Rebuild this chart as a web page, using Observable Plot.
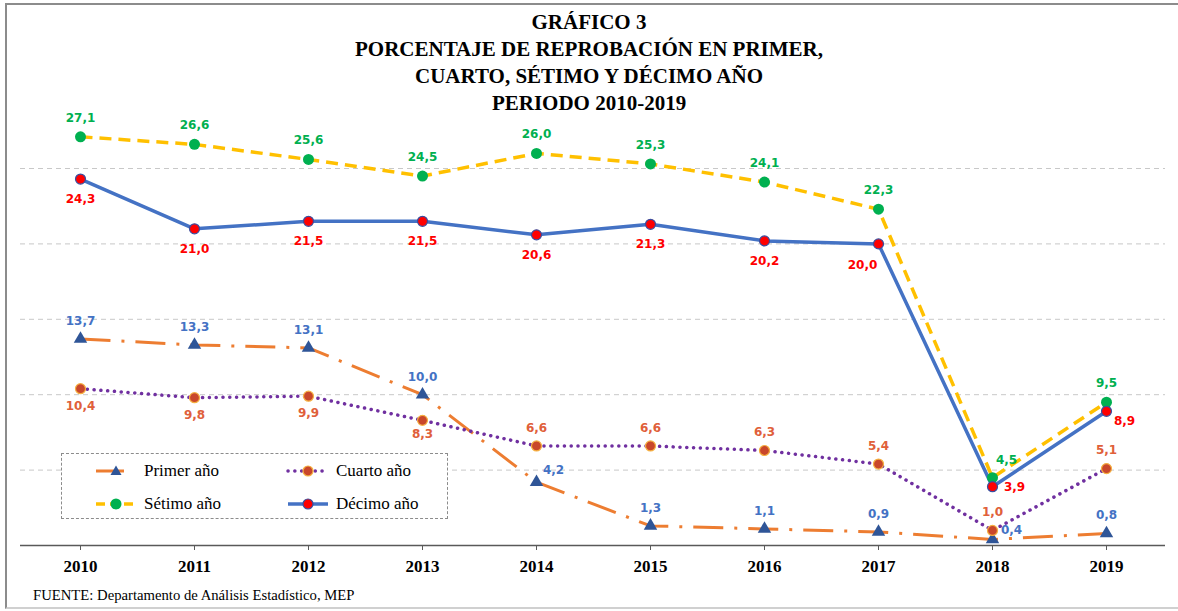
<!DOCTYPE html>
<html>
<head>
<meta charset="utf-8">
<script src="https://cdn.jsdelivr.net/npm/d3@7"></script>
<script src="https://cdn.jsdelivr.net/npm/@observablehq/plot@0.6"></script>
<style>
  html, body { margin: 0; padding: 0; background: #fff; overflow: hidden; }
  #wrap { position: relative; width: 1178px; height: 611px; }
  #frame { position: absolute; left: 5px; top: 3px; width: 1200px; height: 602px;
           border-left: 2px solid #8c8c8c; border-top: 2px solid #8c8c8c; border-bottom: 2px solid #d0d0d0; pointer-events: none; }
  #title { height: 112px; box-sizing: border-box; padding-top: 9px; text-align: center;
           font-family: "Liberation Serif", serif; font-weight: bold; font-size: 21px; line-height: 27px; color: #000; }
  #chart svg { display: block; }
  #caption { margin-top: 5px; padding-left: 33px; font-family: "Liberation Serif", serif; font-size: 14.7px; line-height: 16px; color: #000; }
  #legend { position: absolute; left: 61px; top: 453px; width: 385px; height: 64px; border: 1px dashed #8c8c8c; background: #fff;
            font-family: "Liberation Serif", serif; font-size: 17px; color: #000; }
  .item { position: absolute; display: flex; align-items: center; height: 20px; }
  .item svg { margin-right: 6px; }
</style>
</head>
<body>
<div id="wrap">
  <div id="title">GRÁFICO 3<br>PORCENTAJE DE REPROBACIÓN EN PRIMER,<br>CUARTO, SÉTIMO Y DÉCIMO AÑO<br>PERIODO 2010-2019</div>
  <div id="chart"></div>
  <div id="caption">FUENTE: Departamento de Análisis Estadístico, MEP</div>
  <div id="legend"></div>
  <div id="frame"></div>
</div>
<script>
const years = ["2010","2011","2012","2013","2014","2015","2016","2017","2018","2019"];
const seriesNames = ["Primer año","Cuarto año","Sétimo año","Décimo año"];
const primer = [13.7, 13.3, 13.1, 10.0, 4.2, 1.3, 1.1, 0.9, 0.4, 0.8];
const cuarto = [10.4, 9.8, 9.9, 8.3, 6.6, 6.6, 6.3, 5.4, 1.0, 5.1];
const setimo = [27.1, 26.6, 25.6, 24.5, 26.0, 25.3, 24.1, 22.3, 4.5, 9.5];
const decimo = [24.3, 21.0, 21.5, 21.5, 20.6, 21.3, 20.2, 20.0, 3.9, 8.9];
const gridValues = [5, 10, 15, 20, 25];

const fmt = v => v.toFixed(1).replace(".", ",");
const rows = vals => years.map((year, i) => ({year, v: vals[i], i}));

const styles = {
  "Primer año": {vals: primer, stroke: "#ED7D31", dash: "30 11 3 11", width: 3, marker: "triangle", mfill: "#2F5597", mstroke: "none", r: 5, label: "#4472C4",
    off: i => i === 4 ? [17, -12] : i === 8 ? [19, -9] : [0, -18]},
  "Cuarto año": {vals: cuarto, stroke: "#7030A0", dash: "0.1 6.7", cap: "round", width: 3.5, marker: "circle", mfill: "#C9472B", mstroke: "#F5B041", r: 5, label: "#E0603A",
    off: i => i <= 3 ? [0, i === 3 ? 14 : 17] : [0, -18]},
  "Sétimo año": {vals: setimo, stroke: "#FFC000", dash: "12 7", width: 3.5, marker: "circle", mfill: "#00B050", mstroke: "none", r: 5.5, label: "#00B050",
    off: i => i === 8 ? [14, -17] : [0, -19]},
  "Décimo año": {vals: decimo, stroke: "#4472C4", dash: null, width: 3.5, marker: "circle", mfill: "#FF0000", mstroke: "#3A4FA0", r: 5, label: "#FF0000",
    off: i => i === 7 ? [-16, 21] : i === 8 ? [22, 0] : i === 9 ? [18, 10] : [0, 20]}
};

const marks = [
  Plot.ruleY(gridValues, {stroke: "#c8c8c8", strokeWidth: 1, strokeDasharray: "5 4"}),
  Plot.ruleY([0], {stroke: "#595959", strokeWidth: 1.5}),
  Plot.axisX({tickSize: 5, tickPadding: 9, stroke: "#595959", fontSize: 17, fontWeight: "bold", fontFamily: "Liberation Serif", fill: "#000"})
];

for (const name of seriesNames) {
  const s = styles[name];
  const data = rows(s.vals);
  marks.push(Plot.line(data, {x: "year", y: "v", stroke: s.stroke, strokeWidth: s.width,
    strokeDasharray: s.dash || undefined, strokeLinecap: s.cap || "butt", strokeLinejoin: "round"}));
}
for (const name of seriesNames) {
  const s = styles[name];
  const data = rows(s.vals);
  marks.push(Plot.dot(data, {x: "year", y: "v", symbol: s.marker, r: s.r, fill: s.mfill, stroke: s.mstroke, strokeWidth: 1.2}));
  for (const d of data) {
    const [dx, dy] = s.off(d.i);
    marks.push(Plot.text([d], {x: "year", y: "v", text: d => fmt(d.v), dx, dy, fill: s.label,
      fontSize: 12, fontWeight: "bold", fontFamily: "DejaVu Sans"}));
  }
}

const chart = Plot.plot({
  width: 1178, height: 470,
  marginLeft: 20, marginRight: 13, marginTop: 56, marginBottom: 37,
  x: {type: "point", domain: years, padding: 0.5, label: null},
  y: {domain: [0, 25], axis: null},
  marks
});
document.getElementById("chart").appendChild(chart);

// legend
const legend = document.getElementById("legend");
const pos = [[32, 7], [224, 7], [32, 40], [224, 40]];
seriesNames.forEach((name, k) => {
  const s = styles[name];
  const el = document.createElement("div");
  el.className = "item";
  el.style.left = pos[k][0] + "px";
  el.style.top = pos[k][1] + "px";
  const ns = "http://www.w3.org/2000/svg";
  const svg = document.createElementNS(ns, "svg");
  svg.setAttribute("width", "44"); svg.setAttribute("height", "20");
  const ln = document.createElementNS(ns, "line");
  ln.setAttribute("x1", "2"); ln.setAttribute("x2", "42"); ln.setAttribute("y1", "10"); ln.setAttribute("y2", "10");
  ln.setAttribute("stroke", s.stroke); ln.setAttribute("stroke-width", s.width);
  if (name === "Primer año") ln.setAttribute("stroke-dasharray", "28 50");
  else if (s.dash) ln.setAttribute("stroke-dasharray", s.dash === "12 7" ? "9 5" : s.dash);
  if (s.cap) ln.setAttribute("stroke-linecap", s.cap);
  svg.appendChild(ln);
  let m;
  if (s.marker === "triangle") {
    m = document.createElementNS(ns, "path");
    m.setAttribute("d", "M22,4.5 L27.5,14 L16.5,14 Z");
  } else {
    m = document.createElementNS(ns, "circle");
    m.setAttribute("cx", "22"); m.setAttribute("cy", "10"); m.setAttribute("r", s.r);
  }
  m.setAttribute("fill", s.mfill);
  if (s.mstroke !== "none") { m.setAttribute("stroke", s.mstroke); m.setAttribute("stroke-width", "1.2"); }
  svg.appendChild(m);
  el.appendChild(svg);
  const t = document.createElement("span");
  t.textContent = name;
  el.appendChild(t);
  legend.appendChild(el);
});
</script>
</body>
</html>
